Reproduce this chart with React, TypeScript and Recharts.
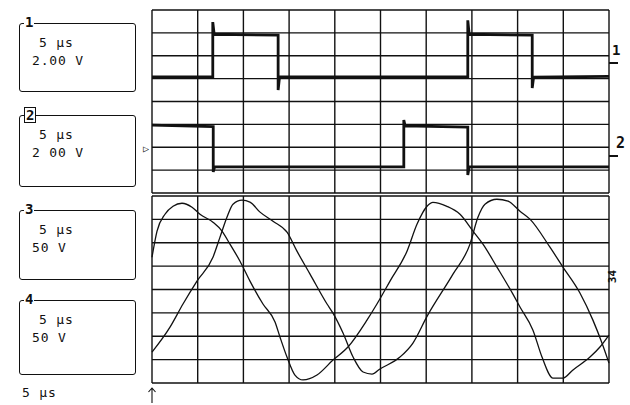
import { LineChart, Line, XAxis, YAxis, CartesianGrid } from "recharts";

// 10 divisions of 5 µs, 8 vertical divisions per panel
const timeTicks = [0, 5, 10, 15, 20, 25, 30, 35, 40, 45, 50];
const divTicks = [0, 1, 2, 3, 4, 5, 6, 7, 8];

// channel 1 (square wave), time in µs, level in divisions
const ch1Time = [0, 6.65, 6.65, 6.8, 13.8, 13.8, 13.95, 34.55, 34.55, 34.7, 41.6, 41.6, 41.75, 50];
const ch1Level = [5.07, 5.07, 7.47, 6.94, 6.9, 4.5, 5.07, 5.07, 7.55, 6.94, 6.9, 4.59, 5.07, 5.1];

// channel 2 (square wave)
const ch2Time = [0, 6.7, 6.7, 6.85, 27.55, 27.55, 27.7, 34.55, 34.55, 34.7, 50];
const ch2Level = [2.97, 2.9, 0.92, 1.14, 1.14, 3.19, 2.93, 2.88, 0.79, 1.14, 1.14];

// channel 3 (lower panel, first peak near 3 µs)
const ch3Time = [
  0, 0.55, 1.42, 2.3, 3.28, 4.38, 5.25, 6.67, 7.66, 8.53, 9.63, 10.72, 12.14, 13.46, 14.0, 14.77, 15.64, 16.52,
  18.05, 19.8, 21.44, 23.52, 24.61, 26.04, 27.9, 28.99, 30.09, 30.74, 32.27, 33.7, 35.12, 36.21, 37.74, 39.49,
  40.26, 41.68, 42.67, 43.87, 44.96, 46.06, 47.92, 49.01, 50,
];
const ch3Level = [
  5.38, 6.5, 7.22, 7.56, 7.69, 7.52, 7.22, 6.88, 6.5, 5.94, 5.21, 4.36, 3.38, 2.61, 1.97, 1.11, 0.34, 0.13,
  0.34, 0.98, 1.54, 2.69, 3.38, 4.36, 5.64, 6.79, 7.56, 7.73, 7.56, 7.22, 6.5, 5.94, 4.96, 3.8,
  3.25, 2.26, 1.11, 0.21, 0.21, 0.56, 1.11, 1.54, 2.05,
];

// channel 4 (lower panel, first peak near 10 µs)
const ch4Time = [
  0, 1.97, 3.39, 4.92, 6.67, 7.44, 8.2, 8.86, 9.85, 10.72, 11.82, 13.24, 14.77, 15.86, 17.29, 19.15, 19.8, 20.9,
  22.0, 23.09, 24.07, 24.94, 27.13, 28.55, 30.09, 32.93, 34.79, 35.66, 36.43, 37.74, 38.95, 40.26, 41.35, 43.54,
  44.96, 46.82, 48.24, 49.23, 50,
];
const ch4Level = [
  1.32, 2.39, 3.38, 4.36, 5.38, 6.24, 7.09, 7.65, 7.82, 7.74, 7.31, 6.92, 6.45, 5.64, 4.66, 3.38, 2.99, 2.14,
  1.11, 0.47, 0.38, 0.6, 1.11, 1.71, 2.85, 4.66, 5.94, 7.09, 7.65, 7.86, 7.78, 7.35, 7.01, 5.81,
  4.96, 3.85, 2.69, 1.71, 0.85,
];

const channelBoxes = [
  { num: "1", time: "5 μs", volts: "2.00 V", top: 23, height: 67, inverted: false },
  { num: "2", time: "5 μs", volts: "2 00 V", top: 115, height: 70, inverted: true },
  { num: "3", time: "5 μs", volts: "50 V", top: 210, height: 68, inverted: false },
  { num: "4", time: "5 μs", volts: "50 V", top: 300, height: 73, inverted: false },
];

const toPoints = (time: number[], level: number[]) => time.map((t, i) => ({ t, v: level[i] }));

const ink = "#111";
const mono = "'DejaVu Sans Mono', monospace";

const Panel = ({ top, height, traces, thick }: any) => (
  <div style={{ position: "absolute", left: 150, top }}>
    <LineChart width={461} height={height} margin={{ top: 2, right: 2, bottom: 2, left: 2 }}>
      <CartesianGrid stroke={ink} strokeWidth={1.4} strokeOpacity={1} />
      <XAxis dataKey="t" type="number" domain={[0, 50]} ticks={timeTicks} interval={0} hide />
      <YAxis type="number" domain={[0, 8]} ticks={divTicks} interval={0} hide />
      {traces.map((d: any, i: number) => (
        <Line
          key={i}
          data={d}
          dataKey="v"
          type={thick ? "linear" : "monotone"}
          stroke={ink}
          strokeWidth={thick ? 2.8 : 1.3}
          dot={false}
          isAnimationActive={false}
        />
      ))}
    </LineChart>
  </div>
);

export default function App() {
  return (
    <div
      style={{
        position: "absolute",
        left: 0,
        top: 0,
        width: 630,
        height: 405,
        background: "#fff",
        color: ink,
        fontFamily: mono,
        overflow: "hidden",
      }}
    >
      {channelBoxes.map((b) => (
        <div key={b.num}>
          <div
            style={{
              position: "absolute",
              left: 19,
              top: b.top,
              width: 115,
              height: b.height,
              border: `1.3px solid ${ink}`,
              borderRadius: 3,
            }}
          />
          <div
            style={{
              position: "absolute",
              left: 24,
              top: b.top - 8,
              padding: "0 1px",
              background: "#fff",
              fontSize: 14,
              fontWeight: 700,
              lineHeight: "14px",
              border: b.inverted ? `1.5px solid ${ink}` : "none",
            }}
          >
            {b.num}
          </div>
          <div style={{ position: "absolute", left: 39, top: b.top + 12, fontSize: 13, letterSpacing: 0.8 }}>
            {b.time}
          </div>
          <div style={{ position: "absolute", left: 32, top: b.top + 30, fontSize: 13, letterSpacing: 0.8 }}>
            {b.volts}
          </div>
        </div>
      ))}
      <div style={{ position: "absolute", left: 22, top: 385, fontSize: 13, letterSpacing: 0.8 }}>5 μs</div>
      {/* trigger arrow under the time axis */}
      <svg style={{ position: "absolute", left: 146, top: 386 }} width={12} height={18}>
        <path d="M6 2 L6 17 M2.5 6 L6 2 L9.5 6" fill="none" stroke={ink} strokeWidth={1.1} />
      </svg>
      <div style={{ position: "absolute", left: 143, top: 143, fontSize: 10 }}>▷</div>

      <Panel top={8} height={187} thick traces={[toPoints(ch1Time, ch1Level), toPoints(ch2Time, ch2Level)]} />
      <Panel top={194} height={191} traces={[toPoints(ch3Time, ch3Level), toPoints(ch4Time, ch4Level)]} />

      <div style={{ position: "absolute", left: 612, top: 42, fontSize: 14, fontWeight: 700 }}>1</div>
      <div style={{ position: "absolute", left: 609, top: 62, width: 9, height: 1.5, background: ink }} />
      <div style={{ position: "absolute", left: 616, top: 134, fontSize: 15, fontWeight: 700 }}>2</div>
      <div style={{ position: "absolute", left: 609, top: 155, width: 9, height: 1.5, background: ink }} />
      <div
        style={{
          position: "absolute",
          left: 606,
          top: 270,
          fontSize: 11,
          fontWeight: 700,
          transform: "rotate(-90deg)",
        }}
      >
        34
      </div>
    </div>
  );
}
